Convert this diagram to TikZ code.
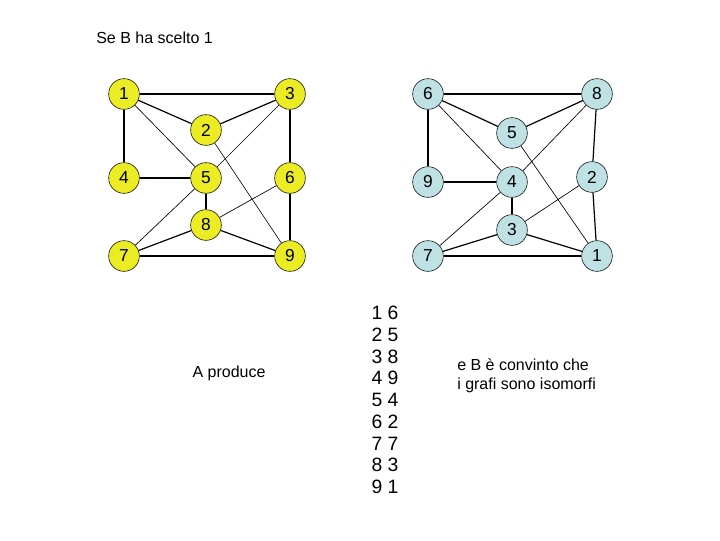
\documentclass[tikz,border=0pt]{standalone}
\usepackage{fontspec}
\setmainfont{Liberation Sans}
\usepackage{xcolor}
\usetikzlibrary{positioning}

\definecolor{ylwnode}{RGB}{236,236,36}
\definecolor{bluenode}{RGB}{190,225,228}

\begin{document}
\begin{tikzpicture}[
    x=0.75pt, y=-0.75pt,
    vtx/.style={draw, circle, minimum size=23pt, inner sep=0pt, font=\fontsize{13}{15}\selectfont},
    yv/.style={vtx, fill=ylwnode},
    bv/.style={vtx, fill=bluenode},
    edge/.style={line width=0.9pt},
    fine/.style={line width=0.5pt},
    txt/.style={font=\fontsize{12}{14}\selectfont, inner sep=0pt}
  ]
  \useasboundingbox (0,0) rectangle (720,540);

  \node[txt, anchor=west] (title) at (96,38) {Se B ha scelto 1};

  % first graph
  \node[yv] (a1) at (124,94) {1};
  \node[yv] (a3) at (290,94) {3};
  \node[yv] (a2) at (206,130) {2};
  \node[yv] (a4) at (124,178) {4};
  \node[yv] (a5) at (206,178) {5};
  \node[yv] (a6) at (290,178) {6};
  \node[yv] (a8) at (206,225) {8};
  \node[yv] (a7) at (124,256) {7};
  \node[yv] (a9) at (290,256) {9};

  \draw[edge] (a1) -- (a3);
  \draw[edge] (a1) -- (a2);
  \draw[fine] (a1) -- (a5);
  \draw[edge] (a1) -- (a4);
  \draw[edge] (a2) -- (a3);
  \draw[fine] (a3) -- (a5);
  \draw[edge] (a3) -- (a6);
  \draw[fine] (a2) -- (a9);
  \draw[edge] (a4) -- (a5);
  \draw[edge] (a5) -- (a8);
  \draw[fine] (a5) -- (a7);
  \draw[fine] (a6) -- (a8);
  \draw[edge] (a6) -- (a9);
  \draw[edge] (a8) -- (a7);
  \draw[edge] (a8) -- (a9);
  \draw[edge] (a7) -- (a9);

  % second graph
  \node[bv] (b6) at (428,94) {6};
  \node[bv] (b8) at (597,94) {8};
  \node[bv] (b5) at (512,133) {5};
  \node[bv] (b9) at (428,182) {9};
  \node[bv] (b4) at (512,182) {4};
  \node[bv] (b2) at (592,177) {2};
  \node[bv] (b3) at (512,230) {3};
  \node[bv] (b7) at (428,256) {7};
  \node[bv] (b1) at (597,256) {1};

  \draw[edge] (b6) -- (b8);
  \draw[edge] (b6) -- (b5);
  \draw[fine] (b6) -- (b4);
  \draw[edge] (b6) -- (b9);
  \draw[edge] (b5) -- (b8);
  \draw[fine] (b8) -- (b4);
  \draw[edge] (b8) -- (b2);
  \draw[fine] (b5) -- (b1);
  \draw[edge] (b9) -- (b4);
  \draw[edge] (b4) -- (b3);
  \draw[fine] (b4) -- (b7);
  \draw[fine] (b2) -- (b3);
  \draw[edge] (b2) -- (b1);
  \draw[edge] (b3) -- (b7);
  \draw[edge] (b3) -- (b1);
  \draw[edge] (b7) -- (b1);

  % captions
  \node[txt] (prod) at (229,373) {A produce};
  \node[align=center, inner sep=0pt, font=\fontsize{14.5}{16.3}\selectfont] (map) at (385,400)
    {1 6\\2 5\\3 8\\4 9\\5 4\\6 2\\7 7\\8 3\\9 1};
  \node[txt, align=left, anchor=west, font=\fontsize{12}{14.3}\selectfont] (conv) at (457,376)
    {e B è convinto che\\i grafi sono isomorfi};
\end{tikzpicture}
\end{document}
